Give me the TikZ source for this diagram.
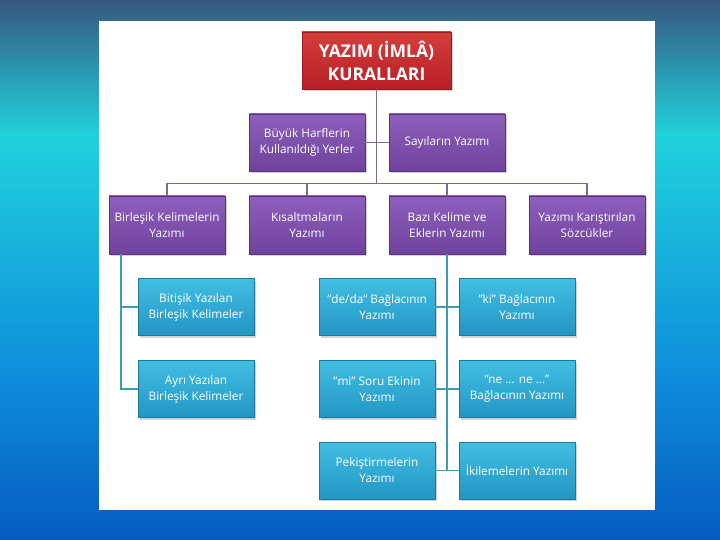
\documentclass[tikz,border=0pt]{standalone}
\usepackage{fontspec}
\setmainfont{Open Sans}
\usetikzlibrary{shadows}
\definecolor{bgtop}{RGB}{54,88,128}
\definecolor{bgcyan}{RGB}{32,210,220}
\definecolor{bgmid}{RGB}{14,140,220}
\definecolor{bgbot}{RGB}{5,92,190}
\definecolor{redtop}{RGB}{214,62,60}
\definecolor{redbot}{RGB}{182,32,38}
\definecolor{redline}{RGB}{150,30,34}
\definecolor{purtop}{RGB}{142,96,190}
\definecolor{purbot}{RGB}{110,66,156}
\definecolor{purline}{RGB}{88,52,128}
\definecolor{teatop}{RGB}{66,190,226}
\definecolor{teabot}{RGB}{34,150,196}
\definecolor{tealine}{RGB}{26,120,160}
\definecolor{conpur}{RGB}{125,105,150}
\definecolor{contea}{RGB}{60,155,185}
\newcommand{\dq}{\symbol{34}}
\tikzset{
  basebox/.style={rectangle, text=white, align=center, inner sep=1pt,
    drop shadow={opacity=0.35, shadow xshift=1.5pt, shadow yshift=-2pt},
    font=\fontsize{11.8}{16}\selectfont, line width=0.6pt},
  rootbox/.style={basebox, minimum width=149pt, minimum height=57pt,
    top color=redtop, bottom color=redbot, draw=redline,
    font=\fontsize{17.5}{23}\selectfont\bfseries},
  purbox/.style={basebox, minimum width=116pt, minimum height=57pt,
    top color=purtop, bottom color=purbot, draw=purline},
  teabox/.style={basebox, minimum width=116pt, minimum height=57pt,
    top color=teatop, bottom color=teabot, draw=tealine},
  conp/.style={draw=conpur, line width=1.8pt},
  cont/.style={draw=contea, line width=1.8pt},
}
\begin{document}
\begin{tikzpicture}[x=1pt,y=-1pt]
\useasboundingbox (0,0) rectangle (720,540);
% background
\shade[top color=bgtop, bottom color=bgcyan] (0,0) rectangle (720,135);
\shade[top color=bgcyan, bottom color=bgmid] (0,134.5) rectangle (720,380);
\shade[top color=bgmid, bottom color=bgbot] (0,379.5) rectangle (720,540);
\fill[white] (99,21) rectangle (655,510);

% nodes
\node[rootbox] (root) at (376.5,60.5) {YAZIM (İMLÂ)\\KURALLARI};
\node[purbox] (buyuk) at (307,142.5) {Büyük Harflerin\\Kullanıldığı Yerler};
\node[purbox] (sayi) at (447,142.5) {Sayıların Yazımı};
\node[purbox, minimum height=58pt] (birl) at (167,225) {Birleşik Kelimelerin\\Yazımı};
\node[purbox, minimum height=58pt] (kisa) at (307,225) {Kısaltmaların\\Yazımı};
\node[purbox, minimum height=58pt] (bazi) at (447,225) {Bazı Kelime ve\\Eklerin Yazımı};
\node[purbox, minimum height=58pt] (karis) at (587,225) {Yazımı Karıştırılan\\Sözcükler};

\node[teabox] (biti) at (196,307) {Bitişik Yazılan\\Birleşik Kelimeler};
\node[teabox] (ayri) at (196,389) {Ayrı Yazılan\\Birleşik Kelimeler};
\node[teabox] (dede) at (377,307) {\dq de/da\dq{} Bağlacının\\Yazımı};
\node[teabox] (ki) at (517,307) {\dq ki\dq{} Bağlacının\\Yazımı};
\node[teabox] (mi) at (377,389) {\dq mi\dq{} Soru Ekinin\\Yazımı};
\node[teabox] (nene) at (517,389) {“ne ... ne ...”\\Bağlacının Yazımı};
\node[teabox] (pek) at (377,470.5) {Pekiştirmelerin\\Yazımı};
\node[teabox] (iki) at (517,470.5) {İkilemelerin Yazımı};

% connectors (upper)
\coordinate (bus) at (377,183.5);
\draw[conp] (root.south) -- (root.south |- bus);
\draw[conp] (buyuk.east) -- (sayi.west);
\draw[conp] (birl.north) |- (bus) -| (karis.north);
\draw[conp] (kisa.north) -- (kisa.north |- bus);
\draw[conp] (bazi.north) -- (bazi.north |- bus);

% connectors (lower left)
\coordinate (lv) at ([xshift=12pt]birl.south west);
\coordinate (lvb) at (lv |- ayri.west);
\draw[cont] (lv) -- (lvb) -- (ayri.west);
\draw[cont] (lv |- biti.west) -- (biti.west);

% connectors (lower right)
\coordinate (rvb) at (bazi.south |- pek.east);
\draw[cont] (bazi.south) -- (rvb);
\draw[cont] (dede.east) -- (ki.west);
\draw[cont] (mi.east) -- (nene.west);
\draw[cont] (pek.east) -- (iki.west);
\end{tikzpicture}
\end{document}
